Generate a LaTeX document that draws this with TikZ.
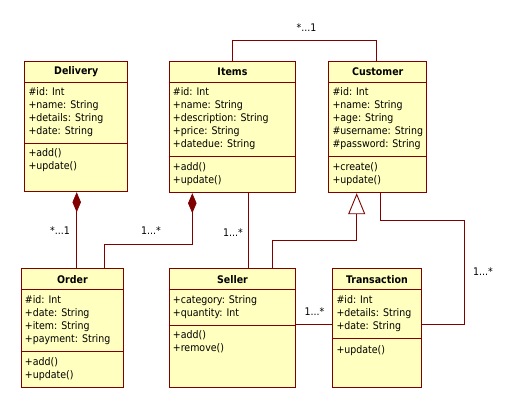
\documentclass[tikz,border=0pt]{standalone}
\usepackage{fontspec}
\setmainfont{DejaVu Sans Condensed}
\usetikzlibrary{arrows.meta, positioning, calc}

\definecolor{umlfill}{HTML}{FFFFC0}
\definecolor{umlline}{HTML}{800000}

\tikzset{
  cls/.style={draw=umlline, fill=umlfill, line width=0.9pt, anchor=north west, inner sep=0pt},
  title/.style={font=\fontsize{10.5}{13}\selectfont\bfseries, inner sep=0pt},
  attrs/.style={font=\fontsize{10.5}{13}\selectfont, align=left, anchor=north west, inner sep=0pt,
    execute at begin node=\strut},
  sepline/.style={draw=umlline, line width=0.9pt},
  assoc/.style={draw=umlline, line width=0.9pt},
  mult/.style={font=\fontsize{10.5}{13}\selectfont, inner sep=0pt},
  compos/.style={{Diamond[length=20pt,width=8.5pt,fill=umlline]}-},
  general/.style={-{Triangle[open,length=21pt,width=17pt,fill=white]}}
}

% one class box: name, left, top, width, height, offset of second line
\newcommand{\umlbox}[6]{%
  \node[cls, minimum width=#4pt, minimum height=#5pt] (#1) at (#2,#3) {};
  \draw[sepline] ($(#1.north west)+(0,21.6)$) -- ($(#1.north east)+(0,21.6)$);
  \draw[sepline] ($(#1.north west)+(0,#6)$) -- ($(#1.north east)+(0,#6)$);
}

\begin{document}
\begin{tikzpicture}[x=1pt, y=-1pt]
  \useasboundingbox (0,0) rectangle (514,408);

  % Classes
  \umlbox{delivery}{24.3}{60.7}{103}{130.6}{82.6}
  \umlbox{items}{168.7}{60.7}{126.6}{131.6}{96}
  \umlbox{customer}{328.3}{60.7}{98}{131.6}{96}
  \umlbox{order}{20.7}{268.3}{102.6}{118.7}{83.4}
  \umlbox{seller}{168.7}{268.3}{126.6}{118.7}{56.7}
  \umlbox{transaction}{332.3}{268.3}{88.4}{118.7}{70}

  % Titles
  \node[title] at ($(delivery.north)+(0,10.8)$) {Delivery};
  \node[title] at ($(items.north)+(0,10.8)$) {Items};
  \node[title] at ($(customer.north)+(0,10.8)$) {Customer};
  \node[title] at ($(order.north)+(0,10.8)$) {Order};
  \node[title] at ($(seller.north)+(0,10.8)$) {Seller};
  \node[title] at ($(transaction.north)+(0,10.8)$) {Transaction};

  % Attributes
  \node[attrs] at ($(delivery.north west)+(4,27)$)
    {\#id: Int\\+name: String\\+details: String\\+date: String};
  \node[attrs] at ($(items.north west)+(4,27)$)
    {\#id: Int\\+name: String\\+description: String\\+price: String\\+datedue: String};
  \node[attrs] at ($(customer.north west)+(4,27)$)
    {\#id: Int\\+name: String\\+age: String\\\#username: String\\\#password: String};
  \node[attrs] at ($(order.north west)+(4,27)$)
    {\#id: Int\\+date: String\\+item: String\\+payment: String};
  \node[attrs] at ($(seller.north west)+(4,27)$)
    {+category: String\\+quantity: Int};
  \node[attrs] at ($(transaction.north west)+(4,27)$)
    {\#id: Int\\+details: String\\+date: String};

  % Operations
  \node[attrs] at ($(delivery.north west)+(4,88)$) {+add()\\+update()};
  \node[attrs] at ($(items.north west)+(4,101.4)$) {+add()\\+update()};
  \node[attrs] at ($(customer.north west)+(4,101.4)$) {+create()\\+update()};
  \node[attrs] at ($(order.north west)+(4,88.8)$) {+add()\\+update()};
  \node[attrs] at ($(seller.north west)+(4,62.1)$) {+add()\\+remove()};
  \node[attrs] at ($(transaction.north west)+(4,75.4)$) {+update()};

  % Connectors
  \coordinate (c1) at (232.3,40.3);
  \coordinate (c2) at (376.3,40.3);
  \draw[assoc] (c1 |- items.north) -- (c1) -- (c2) -- (c2 |- customer.north);
  \node[mult] at (306.5,28) {*...1};

  \coordinate (d1) at (76.7,0);
  \draw[assoc, compos] (d1 |- delivery.south) -- (d1 |- order.north);
  \node[mult] at (60,231) {*...1};

  \coordinate (e1) at (192.3,244);
  \coordinate (e2) at (104.3,244);
  \draw[assoc, compos] (e1 |- items.south) -- (e1) -- (e2) -- (e2 |- order.north);
  \node[mult] at (151,231) {1...*};

  \coordinate (f1) at (248.3,0);
  \draw[assoc] (f1 |- items.south) -- (f1 |- seller.north);
  \node[mult] at (233,233) {1...*};

  \coordinate (g1) at (272.3,240.7);
  \coordinate (g2) at (356.7,240.7);
  \draw[assoc, general] (g1 |- seller.north) -- (g1) -- (g2) -- (g2 |- customer.south);

  \coordinate (h1) at (0,324.3);
  \draw[assoc] (seller.east |- h1) -- (transaction.west |- h1);
  \node[mult] at (314.5,311.7) {1...*};

  \coordinate (k1) at (380.3,220.7);
  \coordinate (k2) at (464.3,220.7);
  \coordinate (k3) at (464.3,324.3);
  \draw[assoc] (k1 |- customer.south) -- (k1) -- (k2) -- (k3) -- (transaction.east |- k3);
  \node[mult] at (483,271.7) {1...*};
\end{tikzpicture}
\end{document}
